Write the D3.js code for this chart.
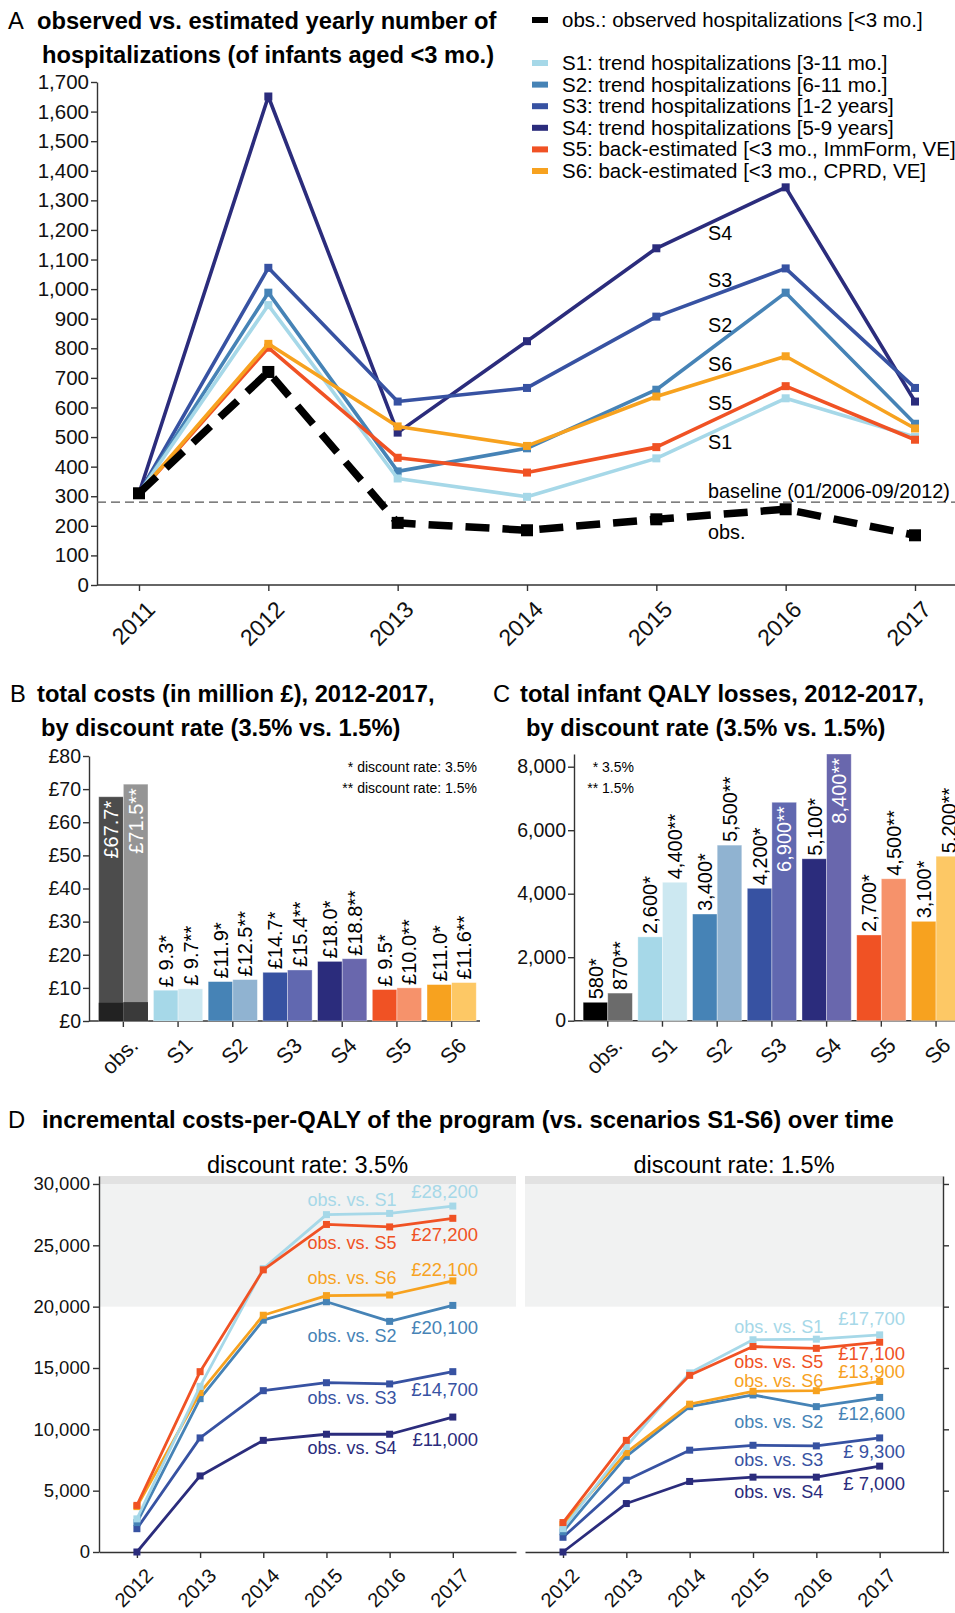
<!DOCTYPE html>
<html>
<head>
<meta charset="utf-8">
<script src="https://cdn.jsdelivr.net/npm/d3@7"></script>
<style>
  body { margin: 0; background: #fff; }
  svg { display: block; font-family: "Liberation Sans", Arial, sans-serif; }
  .axis path, .axis line { stroke: #333; stroke-width: 1.4; }
  .axis text { fill: #111; }
</style>
</head>
<body>
<div id="chart"></div>
<script>
// ---------- data: panel A (yearly hospitalizations, infants <3 mo.) ----------
const yearsA = [2011, 2012, 2013, 2014, 2015, 2016, 2017];
const obsHosp = [310, 720, 210, 185, 222, 256, 168];
const s1Hosp = [310, 946, 360, 298, 428, 631, 500];
const s2Hosp = [310, 988, 384, 462, 660, 988, 545];
const s3Hosp = [310, 1072, 620, 666, 907, 1070, 666];
const s4Hosp = [310, 1651, 515, 824, 1138, 1344, 620];
const s5Hosp = [310, 802, 430, 380, 466, 672, 491];
const s6Hosp = [310, 815, 536, 470, 637, 773, 529];
const baselineHosp = 280;
const legendA = [
  "S1: trend hospitalizations [3-11 mo.]",
  "S2: trend hospitalizations [6-11 mo.]",
  "S3: trend hospitalizations [1-2 years]",
  "S4: trend hospitalizations [5-9 years]",
  "S5: back-estimated [<3 mo., ImmForm, VE]",
  "S6: back-estimated [<3 mo., CPRD, VE]"
];

// ---------- data: panels B and C ----------
const groups = ["obs.", "S1", "S2", "S3", "S4", "S5", "S6"];
const costs35 = [67.7, 9.3, 11.9, 14.7, 18.0, 9.5, 11.0];
const costs15 = [71.5, 9.7, 12.5, 15.4, 18.8, 10.0, 11.6];
const obsCostBase = [5.5, 5.7];
const qaly35 = [580, 2640, 3360, 4170, 5100, 2700, 3130];
const qaly15 = [870, 4360, 5530, 6880, 8400, 4470, 5180];

// ---------- data: panel D (incremental cost per QALY) ----------
const yearsD = [2012, 2013, 2014, 2015, 2016, 2017];
const cpq35S1 = [2700, 13500, 23100, 27500, 27600, 28200];
const cpq35S2 = [2400, 12500, 18900, 20400, 18800, 20100];
const cpq35S3 = [1900, 9300, 13150, 13800, 13700, 14700];
const cpq35S4 = [0, 6200, 9100, 9600, 9600, 11000];
const cpq35S5 = [3800, 14700, 23000, 26700, 26500, 27200];
const cpq35S6 = [3700, 13000, 19300, 20900, 20950, 22100];
const cpq15S1 = [1900, 8600, 14600, 17300, 17350, 17700];
const cpq15S2 = [1650, 7800, 11850, 12800, 11850, 12600];
const cpq15S3 = [1200, 5850, 8300, 8700, 8650, 9300];
const cpq15S4 = [0, 3950, 5750, 6100, 6100, 7000];
const cpq15S5 = [2400, 9100, 14400, 16750, 16600, 17100];
const cpq15S6 = [2250, 8100, 12050, 13100, 13150, 13900];

// ---------- colours ----------
const col = { S1: "#a6d8e8", S2: "#4683b6", S3: "#3752a2", S4: "#2b2c7c", S5: "#f05224", S6: "#f7a21f" };
const col15 = { S1: "#cce8f1", S2: "#90b3d1", S3: "#6168b0", S4: "#6967ad", S5: "#f6926b", S6: "#fdc865" };

const font = "Liberation Sans, Arial, sans-serif";
const svg = d3.select("#chart").append("svg").attr("width", 955).attr("height", 1613);

function title(x, y, letter, lines, xs, size) {
  svg.append("text").attr("x", x).attr("y", y).attr("font-size", size).text(letter);
  lines.forEach((t, i) => svg.append("text").attr("x", xs[i]).attr("y", y + i * 34)
    .attr("font-size", size).attr("font-weight", "bold").text(t));
}

function rotLabels(g, dx, dy, size) {
  g.selectAll(".tick text").attr("font-size", size).attr("text-anchor", "end")
    .attr("transform", `translate(${dx},${dy}) rotate(-45)`).attr("dy", 0).attr("y", 0).attr("x", 0);
}

// ======================= PANEL A =======================
title(8, 29, "A", ["observed vs. estimated yearly number of", "hospitalizations (of infants aged <3 mo.)"], [37, 42], 23.7);

const xA = d3.scaleLinear().domain([2011, 2017]).range([139, 915]);
const yA = d3.scaleLinear().domain([0, 1700]).range([585, 82]);

const gAy = svg.append("g").attr("class", "axis").attr("transform", "translate(97,0)")
  .call(d3.axisLeft(yA).tickValues(d3.range(0, 1701, 100)).tickFormat(d3.format(",")).tickSize(6).tickPadding(2).tickSizeOuter(0));
gAy.selectAll("text").attr("font-size", 20.5).attr("font-family", font);

const gAx = svg.append("g").attr("class", "axis").attr("transform", "translate(0,585)")
  .call(d3.axisBottom(xA).tickValues(yearsA).tickFormat(d3.format("d")).tickSize(6));
gAx.select(".domain").remove();
gAx.append("line").attr("x1", 97).attr("x2", 955).attr("y1", 0).attr("y2", 0);
gAx.selectAll("text").attr("font-family", font);
rotLabels(gAx, 17, 26, 23);

svg.append("line").attr("x1", 97).attr("x2", 955).attr("y1", yA(baselineHosp)).attr("y2", yA(baselineHosp))
  .attr("stroke", "#555").attr("stroke-width", 1.4).attr("stroke-dasharray", "9,5");

const lineA = d3.line().x((d, i) => xA(yearsA[i])).y(d => yA(d));
const seriesA = [["S4", s4Hosp], ["S3", s3Hosp], ["S2", s2Hosp], ["S1", s1Hosp], ["S5", s5Hosp], ["S6", s6Hosp]];
seriesA.forEach(([k, vals]) => {
  svg.append("path").datum(vals).attr("d", lineA).attr("fill", "none")
    .attr("stroke", col[k]).attr("stroke-width", 3.6).attr("stroke-linejoin", "round");
  svg.selectAll(null).data(vals).enter().append("rect")
    .attr("x", (d, i) => xA(yearsA[i]) - 4).attr("y", d => yA(d) - 4)
    .attr("width", 8).attr("height", 8).attr("fill", col[k]);
});
svg.append("path").datum(obsHosp).attr("d", lineA).attr("fill", "none")
  .attr("stroke", "#000").attr("stroke-width", 7.5).attr("stroke-dasharray", "24,13");
svg.selectAll(null).data(obsHosp).enter().append("rect")
  .attr("x", (d, i) => xA(yearsA[i]) - 6).attr("y", d => yA(d) - 6)
  .attr("width", 12).attr("height", 12).attr("fill", "#000");

const labelsA = [["S4", 1189], ["S3", 1030], ["S2", 878], ["S6", 747], ["S5", 615], ["S1", 483],
  ["baseline (01/2006-09/2012)", 318], ["obs.", 179]];
svg.selectAll(null).data(labelsA).enter().append("text")
  .attr("x", 708).attr("y", d => yA(d[1])).attr("dy", "0.35em")
  .attr("font-size", 19.8).text(d => d[0]);

// legend
const legA = svg.append("g").attr("font-size", 20.5);
legA.append("rect").attr("x", 532).attr("y", 17).attr("width", 16).attr("height", 6).attr("fill", "#000");
legA.append("text").attr("x", 562).attr("y", 27).text("obs.: observed hospitalizations [<3 mo.]");
legendA.forEach((t, i) => {
  const y = 63 + i * 21.6;
  legA.append("rect").attr("x", 532).attr("y", y - 3).attr("width", 16).attr("height", 6).attr("fill", col["S" + (i + 1)]);
  legA.append("text").attr("x", 562).attr("y", y + 7).text(t);
});

// ======================= PANELS B & C (bars) =======================
function barPanel(opts) {
  const { x0, x1, axisX, axisRight, y, vals35, vals15, fmt, colObs, insideMin, ticks, tickFmt } = opts;
  const xb = d3.scaleBand().domain(groups).range([x0, x1]).paddingInner(0.1).paddingOuter(0.05);
  const xi = d3.scaleBand().domain([0, 1]).range([0, xb.bandwidth()]);
  const gy = svg.append("g").attr("class", "axis").attr("transform", `translate(${axisX},0)`)
    .call(d3.axisLeft(y).tickValues(ticks).tickFormat(tickFmt).tickSize(6).tickPadding(2).tickSizeOuter(0));
  gy.selectAll("text").attr("font-size", 19.5).attr("font-family", font);
  const gx = svg.append("g").attr("class", "axis").attr("transform", `translate(0,${y(0)})`)
    .call(d3.axisBottom(xb).tickSize(6));
  gx.select(".domain").remove();
  gx.append("line").attr("x1", axisX).attr("x2", axisRight).attr("y1", 0).attr("y2", 0);
  gx.selectAll("text").attr("font-family", font);
  rotLabels(gx, 16, 26, 21.5);

  const bars = [];
  groups.forEach((g, i) => {
    const k = g === "obs." ? null : g;
    bars.push({ g, j: 0, v: vals35[i], fill: k ? col[k] : colObs[0], stars: "*" });
    bars.push({ g, j: 1, v: vals15[i], fill: k ? col15[k] : colObs[1], stars: "**" });
  });
  const bx = d => xb(d.g) + xi(d.j);
  const gb = svg.append("g");
  gb.selectAll("rect").data(bars).enter().append("rect")
    .attr("x", bx).attr("width", xi.bandwidth()).attr("y", d => y(d.v)).attr("height", d => y(0) - y(d.v))
    .attr("fill", d => d.fill).attr("stroke", "#fff").attr("stroke-opacity", 0.45).attr("stroke-width", 0.8);
  if (opts.base) {
    gb.selectAll(null).data(opts.base).enter().append("rect")
      .attr("x", (d, j) => xb("obs.") + xi(j)).attr("width", xi.bandwidth())
      .attr("y", d => y(d)).attr("height", d => y(0) - y(d)).attr("fill", (d, j) => opts.baseCol[j]);
  }
  gb.selectAll("text").data(bars).enter().append("text")
    .attr("transform", d => {
      const inside = d.v >= insideMin;
      return `translate(${bx(d) + xi.bandwidth() / 2},${inside ? y(d.v) + 4 : y(d.v) - 3}) rotate(-90)`;
    })
    .attr("dy", "0.36em").attr("font-size", 20)
    .attr("text-anchor", d => d.v >= insideMin ? "end" : "start")
    .attr("fill", d => d.v >= insideMin ? "#fff" : "#000")
    .text(d => fmt(d.v) + d.stars);
}

title(10, 702, "B", ["total costs (in million £), 2012-2017,", "by discount rate (3.5% vs. 1.5%)"], [37, 41], 23.7);
barPanel({
  x0: 96, x1: 479, axisX: 89, axisRight: 480,
  y: d3.scaleLinear().domain([0, 80]).range([1021, 756]),
  vals35: costs35, vals15: costs15,
  fmt: v => "£" + (v < 10 ? " " : "") + v.toFixed(1),
  colObs: ["#4c4c4c", "#959595"], base: obsCostBase, baseCol: ["#222", "#3a3a3a"],
  insideMin: 50, ticks: d3.range(0, 81, 10), tickFmt: d => "£" + d
});
svg.append("text").attr("x", 477).attr("y", 772).attr("text-anchor", "end").attr("font-size", 14).text("* discount rate: 3.5%");
svg.append("text").attr("x", 477).attr("y", 793).attr("text-anchor", "end").attr("font-size", 14).text("** discount rate: 1.5%");

title(493, 702, "C", ["total infant QALY losses, 2012-2017,", "by discount rate (3.5% vs. 1.5%)"], [520, 526], 23.7);
barPanel({
  x0: 580.4, x1: 963.4, axisX: 574, axisRight: 955,
  y: d3.scaleLinear().domain([0, 8400]).range([1020.7, 754]),
  vals35: qaly35, vals15: qaly15,
  fmt: v => d3.format(",")(v >= 1000 ? Math.round(v / 100) * 100 : Math.round(v / 10) * 10),
  colObs: ["#000", "#6b6b6b"],
  insideMin: 6500, ticks: d3.range(0, 8001, 2000), tickFmt: d3.format(",")
});
svg.append("text").attr("x", 634).attr("y", 772).attr("text-anchor", "end").attr("font-size", 14).text("* 3.5%");
svg.append("text").attr("x", 634).attr("y", 793).attr("text-anchor", "end").attr("font-size", 14).text("** 1.5%");

// ======================= PANEL D =======================
title(8, 1128, "D", ["incremental costs-per-QALY of the program (vs. scenarios S1-S6) over time"], [42], 23.8);

const yD = d3.scaleLinear().domain([0, 30650]).range([1552, 1176]);
const facets = [
  { x0: 99, x1: 516, sub: "discount rate: 3.5%", data: { S1: cpq35S1, S2: cpq35S2, S3: cpq35S3, S4: cpq35S4, S5: cpq35S5, S6: cpq35S6 },
    lab: { S1: 28700, S5: 25190, S6: 22340, S2: 17610, S3: 12550, S4: 8480 } },
  { x0: 525, x1: 943, sub: "discount rate: 1.5%", data: { S1: cpq15S1, S2: cpq15S2, S3: cpq15S3, S4: cpq15S4, S5: cpq15S5, S6: cpq15S6 },
    lab: { S1: 18340, S5: 15520, S6: 13980, S2: 10600, S3: 7500, S4: 4890 } }
];
facets.forEach((f, fi) => {
  const x = d3.scaleLinear().domain([2011.4, 2018.0]).range([f.x0, f.x1]);
  svg.append("rect").attr("x", f.x0).attr("width", f.x1 - f.x0)
    .attr("y", yD(30000)).attr("height", yD(20000) - yD(30000)).attr("fill", "#f1f2f2");
  svg.append("rect").attr("x", f.x0).attr("width", f.x1 - f.x0)
    .attr("y", yD(30650)).attr("height", yD(30000) - yD(30650)).attr("fill", "#e2e2e2");
  svg.append("text").attr("x", (f.x0 + f.x1) / 2).attr("y", 1173).attr("text-anchor", "middle")
    .attr("font-size", 23.5).text(f.sub);

  const gx = svg.append("g").attr("class", "axis").attr("transform", `translate(0,${yD(0)})`)
    .call(d3.axisBottom(x).tickValues(yearsD).tickFormat(d3.format("d")).tickSize(6).tickSizeOuter(0));
  gx.selectAll("text").attr("font-family", font);
  rotLabels(gx, 17, 25, 20);
  if (fi === 0) {
    const gy = svg.append("g").attr("class", "axis").attr("transform", `translate(${f.x0},0)`)
      .call(d3.axisLeft(yD).tickValues(d3.range(0, 30001, 5000)).tickFormat(d3.format(",")).tickSize(6).tickPadding(3).tickSizeOuter(0));
    gy.selectAll("text").attr("font-size", 18.5).attr("font-family", font);
  } else {
    svg.append("g").attr("class", "axis").attr("transform", `translate(${f.x1},0)`)
      .call(d3.axisRight(yD).tickValues(d3.range(0, 30001, 5000)).tickFormat("").tickSize(6).tickSizeOuter(0));
  }

  const line = d3.line().x((d, i) => x(yearsD[i])).y(d => yD(d));
  ["S4", "S3", "S2", "S6", "S1", "S5"].forEach(k => {
    const vals = f.data[k];
    svg.append("path").datum(vals).attr("d", line).attr("fill", "none")
      .attr("stroke", col[k]).attr("stroke-width", 2.8).attr("stroke-linejoin", "round");
    svg.selectAll(null).data(vals).enter().append("rect")
      .attr("x", (d, i) => x(yearsD[i]) - 3.5).attr("y", d => yD(d) - 3.5)
      .attr("width", 7).attr("height", 7).attr("fill", col[k]);
    const last = vals[vals.length - 1];
    const ly = yD(f.lab[k]);
    svg.append("text").attr("x", x(2016.11)).attr("y", ly).attr("dy", "0.35em")
      .attr("text-anchor", "end").attr("font-size", 18).attr("fill", col[k]).text("obs. vs. " + k);
    svg.append("text").attr("x", x(2017.4)).attr("y", ly - 8.5).attr("dy", "0.35em")
      .attr("text-anchor", "end").attr("font-size", 18.5).attr("fill", col[k])
      .text("£" + (last < 10000 ? " " : "") + d3.format(",")(Math.round(last / 100) * 100));
  });
});
</script>
</body>
</html>
